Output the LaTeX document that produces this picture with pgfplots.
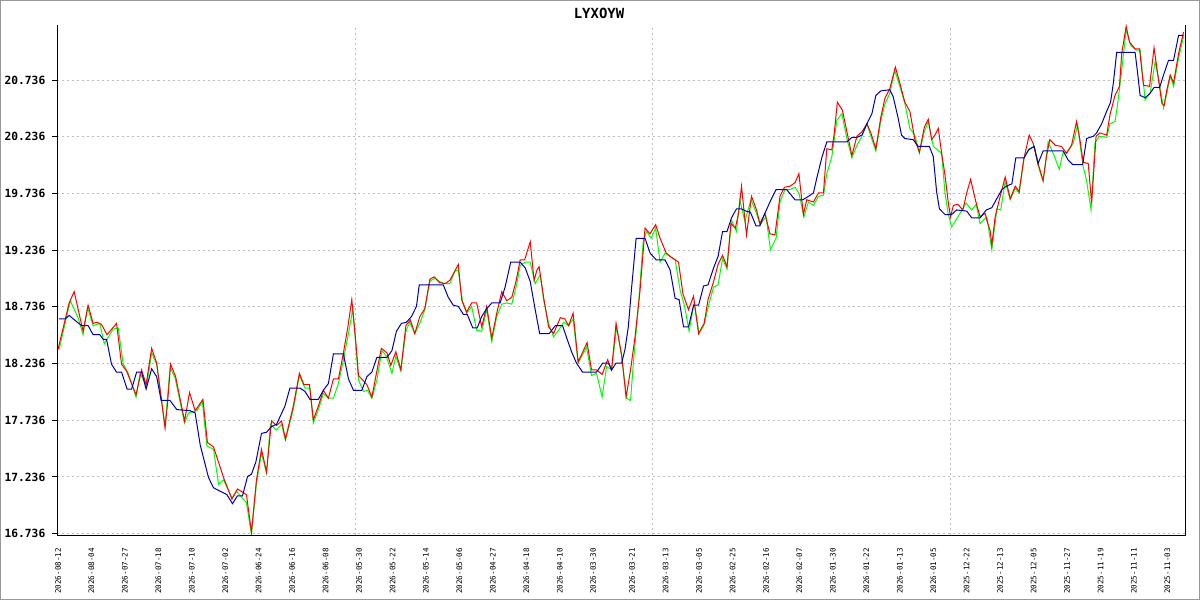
\documentclass[border=0pt]{standalone}
\usepackage{fontspec}
\usepackage{pgfplots}
\pgfplotsset{compat=1.18}
\newfontfamily\dvm{DejaVu Sans Mono}
\definecolor{lred}{RGB}{255,0,0}
\definecolor{lgreen}{RGB}{0,255,0}
\definecolor{lblue}{RGB}{0,0,175}
\definecolor{gridgray}{RGB}{190,190,190}
\definecolor{framegray}{RGB}{153,153,153}
\begin{document}
\begin{tikzpicture}
\begin{axis}[
  at={(0,0)}, anchor=south west,
  scale only axis, width=1127.5bp, height=510bp,
  xmin=-0.09, xmax=202.15, ymin=16.724, ymax=21.221,
  axis line style={draw=none},
  ytick={16.736,17.236,17.736,18.236,18.736,19.236,19.736,20.236,20.736},
  yticklabels={16.736,17.236,17.736,18.236,18.736,19.236,19.736,20.236,20.736},
  ymajorgrids,
  grid style={dash pattern=on 2bp off 3bp, color=gridgray, line width=1bp},
  ytick pos=left, xtick pos=bottom,
  tick align=outside, major tick length=5bp,
  ytick style={draw=black, line width=1bp},
  xtick style={draw=none},
  yticklabel style={font=\dvm\bfseries\fontsize{11.3}{12}\selectfont, inner sep=0pt, xshift=-7bp},
  xtick={0,6,12,18,24,30,36,42,48,54,60,66,72,78,84,90,96,103,109,115,121,127,133,139,145,151,157,163,169,175,181,187,193,199},
  xticklabels={2026-08-12,2026-08-04,2026-07-27,2026-07-18,2026-07-10,2026-07-02,2026-06-24,2026-06-16,2026-06-08,2026-05-30,2026-05-22,2026-05-14,2026-05-06,2026-04-27,2026-04-18,2026-04-10,2026-03-30,2026-03-21,2026-03-13,2026-03-05,2026-02-25,2026-02-16,2026-02-07,2026-01-30,2026-01-22,2026-01-13,2026-01-05,2025-12-22,2025-12-13,2025-12-05,2025-11-27,2025-11-19,2025-11-11,2025-11-03},
  xticklabel shift=8bp,
  xticklabel style={font=\dvm\fontsize{7.6}{8}\selectfont, inner sep=0pt, anchor=east, rotate=90},
  extra x ticks={53.4,106.6,160},
  extra x tick labels={},
  extra x tick style={grid=major},
]
\addplot[lgreen, line width=1bp] coordinates {
(0.2,18.36)(2.2,18.79)(3.6,18.64)(4.5,18.49)(5.3,18.73)(6.3,18.57)(7.5,18.59)(8.3,18.41)(9.9,18.54)(10.8,18.55)
(11.7,18.23)(12.6,18.15)(14.0,17.94)(14.7,18.15)(15.9,18.04)(16.8,18.33)(17.7,18.23)(19.2,17.68)(20.1,18.20)(21.0,18.11)
(22.7,17.71)(23.4,17.80)(24.9,17.82)(25.9,17.90)(26.7,17.51)(27.9,17.48)(28.8,17.17)(29.7,17.21)(31.2,17.05)(32.0,17.11)
(33.8,17.01)(34.7,16.73)(35.6,17.18)(36.5,17.45)(37.4,17.27)(38.1,17.70)(39.2,17.65)(40.1,17.70)(40.8,17.56)(42.2,17.83)
(43.3,18.13)(44.3,18.02)(45.2,18.02)(45.8,17.71)(46.7,17.83)(47.6,17.97)(48.5,17.93)(49.4,17.93)(50.3,18.06)(51.2,18.27)
(52.1,18.50)(52.9,18.72)(53.9,18.09)(54.8,17.99)(55.5,18.00)(56.3,17.93)(57.2,18.09)(58.1,18.35)(58.8,18.31)(59.9,18.15)
(60.6,18.30)(61.5,18.17)(62.4,18.52)(63.1,18.60)(64.0,18.50)(64.9,18.59)(65.8,18.71)(66.7,18.96)(67.6,18.99)(68.4,18.96)
(69.4,18.94)(70.3,18.94)(71.2,19.05)(71.8,19.06)(72.6,18.77)(73.3,18.68)(74.2,18.74)(75.1,18.53)(76.0,18.52)(76.9,18.71)
(77.8,18.43)(78.7,18.65)(79.6,18.76)(80.5,18.77)(81.4,18.76)(82.3,18.94)(82.9,19.10)(83.8,19.13)(84.7,19.13)(85.6,18.94)
(86.5,19.02)(87.1,18.80)(88.0,18.59)(88.9,18.47)(89.8,18.53)(90.7,18.60)(91.6,18.57)(92.4,18.63)(93.3,18.24)(94.8,18.38)
(95.7,18.13)(96.6,18.15)(97.6,17.94)(98.4,18.21)(99.3,18.18)(100.2,18.56)(101.1,18.30)(102.0,17.93)(102.7,17.91)(103.2,18.24)
(104.1,18.74)(105.0,19.33)(105.6,19.40)(106.4,19.34)(107.2,19.43)(108.0,19.13)(108.9,19.21)(110.7,19.15)(111.6,18.88)(112.4,18.74)
(113.2,18.52)(114.1,18.77)(115.0,18.50)(115.9,18.58)(116.8,18.77)(117.6,18.91)(118.4,18.93)(119.2,19.16)(120.0,19.07)(120.8,19.50)
(121.7,19.40)(122.3,19.68)(123.2,19.49)(124.3,19.68)(125.3,19.56)(125.9,19.46)(127.0,19.53)(127.8,19.24)(128.8,19.34)(129.5,19.66)
(130.4,19.77)(131.3,19.77)(132.2,19.79)(132.9,19.74)(133.8,19.53)(134.6,19.66)(135.5,19.63)(136.4,19.71)(137.3,19.72)(137.9,19.91)
(138.8,20.06)(139.7,20.38)(140.6,20.44)(141.5,20.22)(142.4,20.05)(143.3,20.16)(144.2,20.24)(145.1,20.35)(145.8,20.24)(146.7,20.11)
(147.6,20.38)(148.3,20.52)(149.2,20.62)(150.1,20.82)(151.0,20.68)(151.9,20.53)(152.8,20.31)(153.7,20.25)(154.5,20.09)(155.4,20.28)
(156.1,20.37)(157.0,20.15)(158.5,20.09)(159.1,19.74)(159.7,19.55)(160.3,19.44)(162.9,19.65)(163.9,19.59)(164.7,19.64)(165.4,19.47)
(166.6,19.53)(167.5,19.24)(168.4,19.60)(169.1,19.59)(169.9,19.84)(170.8,19.68)(171.7,19.78)(172.4,19.74)(173.3,20.05)(174.2,20.13)
(175.1,20.15)(175.8,19.98)(176.7,19.84)(177.6,20.19)(178.5,20.09)(179.6,19.95)(180.3,20.10)(180.9,20.09)(182.1,20.18)(182.9,20.34)
(183.8,19.99)(184.5,19.85)(185.3,19.59)(186.0,20.18)(186.8,20.24)(188.1,20.23)(188.7,20.35)(189.6,20.37)(190.0,20.50)(190.8,20.82)
(191.6,21.18)(192.4,21.04)(193.4,21.00)(194.1,21.00)(195.0,20.56)(195.9,20.62)(196.8,20.90)(197.4,20.74)(198.3,20.49)(198.9,20.62)
(199.5,20.77)(200.1,20.68)(201.0,20.93)(201.9,21.12)
};
\addplot[lred, line width=1bp] coordinates {
(0,18.36)(2,18.77)(2.9,18.87)(4.5,18.52)(5.4,18.75)(6.3,18.59)(7.0,18.60)(7.8,18.58)(8.8,18.49)(10.5,18.59)
(11.4,18.23)(12.3,18.17)(14.0,17.96)(15.0,18.18)(15.8,18.05)(16.8,18.37)(17.7,18.24)(19.2,17.67)(19.6,17.86)(20.2,18.23)
(21.1,18.12)(22.7,17.73)(23.6,17.98)(24.6,17.82)(26.0,17.92)(26.8,17.54)(27.9,17.50)(29.7,17.23)(31.2,17.04)(32.2,17.13)
(33.8,17.08)(34.7,16.75)(35.6,17.21)(36.5,17.48)(37.4,17.28)(38.3,17.73)(39.2,17.69)(40.1,17.73)(40.8,17.57)(42.2,17.86)
(43.3,18.15)(44.1,18.05)(45.1,18.05)(45.8,17.74)(46.7,17.86)(47.6,18.00)(48.5,17.93)(49.4,18.10)(50.3,18.10)(51.2,18.33)
(52.0,18.56)(52.7,18.80)(53.5,18.38)(53.9,18.13)(55.4,18.05)(56.3,17.94)(57.0,18.12)(58.0,18.37)(59.0,18.33)(59.7,18.22)
(60.6,18.34)(61.5,18.18)(62.4,18.57)(63.2,18.62)(64.0,18.50)(64.9,18.65)(65.8,18.72)(66.7,18.98)(67.5,19.00)(68.4,18.95)
(69.4,18.94)(70.3,18.97)(71.8,19.11)(72.4,18.80)(73.3,18.69)(74.2,18.77)(75.1,18.77)(76.0,18.56)(76.9,18.74)(77.8,18.46)
(78.7,18.68)(79.6,18.87)(80.5,18.79)(81.4,18.82)(82.2,18.97)(82.9,19.15)(83.7,19.15)(84.7,19.31)(85.4,18.97)(85.9,19.06)
(86.3,19.09)(87.1,18.82)(88.0,18.56)(88.9,18.50)(90.1,18.64)(90.9,18.63)(91.6,18.57)(92.4,18.68)(93.3,18.25)(94.9,18.42)
(95.7,18.18)(96.6,18.18)(97.6,18.14)(98.6,18.27)(99.3,18.18)(100.1,18.59)(101.1,18.31)(101.9,17.94)(102.7,18.18)(103.5,18.47)
(104.4,18.88)(105.3,19.43)(106.2,19.38)(107.2,19.46)(108.0,19.34)(109.1,19.21)(109.8,19.18)(111.3,19.13)(112.1,18.85)(113.1,18.71)
(114.0,18.83)(114.9,18.50)(115.9,18.59)(116.6,18.80)(117.6,18.96)(118.4,19.11)(119.2,19.19)(120.0,19.09)(120.7,19.47)(121.5,19.43)
(122.1,19.57)(122.6,19.80)(123.5,19.37)(124.4,19.71)(125.3,19.59)(125.9,19.47)(126.8,19.56)(127.7,19.38)(128.6,19.37)(129.5,19.71)
(130.3,19.79)(131.3,19.80)(132.2,19.83)(132.9,19.91)(133.7,19.55)(134.3,19.68)(135.5,19.66)(136.4,19.74)(137.3,19.74)(137.9,20.13)
(138.8,20.12)(139.2,20.25)(139.8,20.54)(140.7,20.47)(141.5,20.28)(142.4,20.07)(143.3,20.24)(144.2,20.28)(145.1,20.35)(145.8,20.27)
(146.7,20.13)(147.6,20.41)(148.3,20.57)(149.2,20.66)(150.2,20.85)(151.0,20.71)(151.9,20.54)(152.8,20.46)(153.7,20.21)(154.5,20.10)
(155.4,20.32)(156.1,20.39)(156.7,20.21)(157.3,20.25)(157.9,20.31)(158.5,20.09)(159.1,19.90)(159.7,19.65)(160.1,19.53)(160.6,19.63)
(161.4,19.64)(162.3,19.59)(163.0,19.74)(163.7,19.86)(164.7,19.65)(165.4,19.53)(166.3,19.56)(166.6,19.50)(167.2,19.41)(167.5,19.28)
(168.1,19.53)(169.0,19.71)(169.9,19.88)(170.8,19.69)(171.7,19.80)(172.4,19.75)(173.2,20.03)(174.2,20.25)(174.9,20.18)(175.8,20.00)
(176.7,19.85)(177.3,20.06)(177.9,20.21)(178.9,20.16)(180.0,20.15)(180.9,20.09)(181.8,20.16)(182.7,20.37)(183.3,20.21)(183.9,20.01)
(184.8,20.00)(185.4,19.65)(186.2,20.24)(186.9,20.27)(188.1,20.25)(188.7,20.43)(189.6,20.60)(190.4,20.68)(190.8,20.97)(191.6,21.21)
(192.2,21.07)(193.2,21.01)(194.0,21.01)(194.7,20.69)(195.8,20.68)(196.6,21.02)(197.2,20.81)(198.0,20.53)(198.4,20.51)(198.9,20.65)
(199.5,20.78)(200.1,20.71)(201.0,20.97)(201.9,21.16)
};
\addplot[lblue, line width=1bp] coordinates {
(0.2,18.63)(1.3,18.63)(2.0,18.66)(4.2,18.57)(5.4,18.57)(6.3,18.49)(7.5,18.49)(8.1,18.45)(8.7,18.45)(9.6,18.23)
(10.5,18.16)(11.4,18.16)(12.4,18.01)(13.2,18.01)(14.1,18.16)(15.0,18.16)(15.8,18.01)(16.8,18.19)(17.7,18.12)(18.5,17.91)
(20.1,17.91)(21.3,17.83)(23.7,17.82)(24.6,17.80)(25.5,17.52)(27.0,17.23)(27.9,17.14)(29.1,17.11)(30.3,17.08)(31.3,17.00)
(32.2,17.07)(33.1,17.07)(34.0,17.24)(34.7,17.26)(35.5,17.37)(36.5,17.62)(37.4,17.63)(38.3,17.68)(39.2,17.70)(40.7,17.86)
(41.6,18.02)(43.4,18.02)(44.3,17.99)(45.2,17.92)(46.7,17.92)(47.6,18.00)(48.5,18.06)(49.4,18.32)(51.2,18.32)(52.1,18.10)
(53.0,18.00)(54.5,18.00)(55.4,18.12)(56.3,18.16)(57.2,18.29)(59.0,18.29)(59.9,18.35)(60.7,18.52)(61.6,18.59)(62.5,18.60)
(63.4,18.65)(64.3,18.74)(64.8,18.93)(69.1,18.93)(70.0,18.82)(70.9,18.75)(71.8,18.74)(72.7,18.67)(73.4,18.67)(74.4,18.55)
(75.2,18.55)(76.0,18.65)(76.9,18.72)(77.8,18.77)(79.3,18.77)(80.2,18.91)(81.2,19.13)(82.9,19.13)(83.8,19.08)(84.7,18.96)
(85.6,18.71)(86.4,18.50)(88.1,18.50)(89.2,18.57)(90.5,18.57)(91.4,18.44)(92.2,18.33)(93.0,18.24)(94.1,18.16)(96.6,18.16)
(97.7,18.24)(98.7,18.24)(99.3,18.18)(100.1,18.24)(101.1,18.24)(101.7,18.36)(102.3,18.56)(102.9,18.91)(103.7,19.34)(105.3,19.34)
(106.2,19.21)(107.3,19.15)(108.9,19.15)(109.8,19.06)(110.7,18.81)(111.4,18.80)(112.2,18.56)(113.1,18.56)(114.0,18.75)(114.9,18.75)
(115.8,18.92)(116.6,18.93)(117.6,19.08)(118.4,19.18)(119.2,19.40)(120.0,19.40)(120.8,19.52)(121.7,19.60)(122.6,19.60)(123.4,19.58)
(124.2,19.57)(125.2,19.45)(125.9,19.45)(126.8,19.56)(127.7,19.66)(128.8,19.77)(130.7,19.77)(132.2,19.68)(133.6,19.68)(134.3,19.70)
(135.5,19.74)(136.1,19.87)(137.0,20.05)(137.9,20.19)(141.5,20.19)(142.4,20.23)(143.3,20.23)(144.2,20.25)(145.1,20.35)(146.0,20.44)
(146.7,20.60)(147.6,20.64)(149.2,20.65)(149.8,20.59)(150.7,20.40)(151.3,20.25)(151.9,20.22)(153.4,20.21)(154.3,20.15)(156.3,20.15)
(157.0,20.06)(157.6,19.75)(158.1,19.60)(159.1,19.55)(160.3,19.55)(161.2,19.59)(163.0,19.58)(163.9,19.52)(165.4,19.52)(166.5,19.59)
(167.5,19.61)(168.4,19.69)(169.3,19.77)(170.1,19.80)(171.1,19.82)(171.8,20.05)(173.3,20.05)(174.1,20.12)(175.1,20.15)(175.8,20.00)
(176.7,20.11)(180.3,20.11)(181.2,20.03)(182.0,19.99)(183.8,19.99)(184.5,20.22)(185.7,20.24)(186.3,20.27)(187.2,20.35)(188.1,20.46)
(188.8,20.54)(189.3,20.71)(189.9,20.98)(193.2,20.98)(193.6,20.82)(194.1,20.60)(195.0,20.58)(195.9,20.62)(196.6,20.67)(197.6,20.67)
(198.3,20.78)(199.2,20.91)(200.1,20.91)(201.0,21.13)(201.9,21.13)
};
\draw[black, line width=1bp] (axis cs:53.4,16.724) ++(0,-5bp) -- ++(0,10bp);
\draw[black, line width=1bp] (axis cs:106.6,16.724) ++(0,-5bp) -- ++(0,10bp);
\draw[black, line width=1bp] (axis cs:160,16.724) ++(0,-5bp) -- ++(0,10bp);
\end{axis}
\draw[black, line width=1bp] (0,510bp) -- (0,0) -- (1127.5bp,0) -- (1127.5bp,510bp);
\node[font=\dvm\bfseries\fontsize{14}{16}\selectfont, inner sep=0pt] at (541.5bp,521.7bp) {LYXOYW};
\draw[framegray, line width=1.5bp] (-56.75bp,-64.25bp) rectangle (1141.75bp,534.25bp);
\end{tikzpicture}
\end{document}
